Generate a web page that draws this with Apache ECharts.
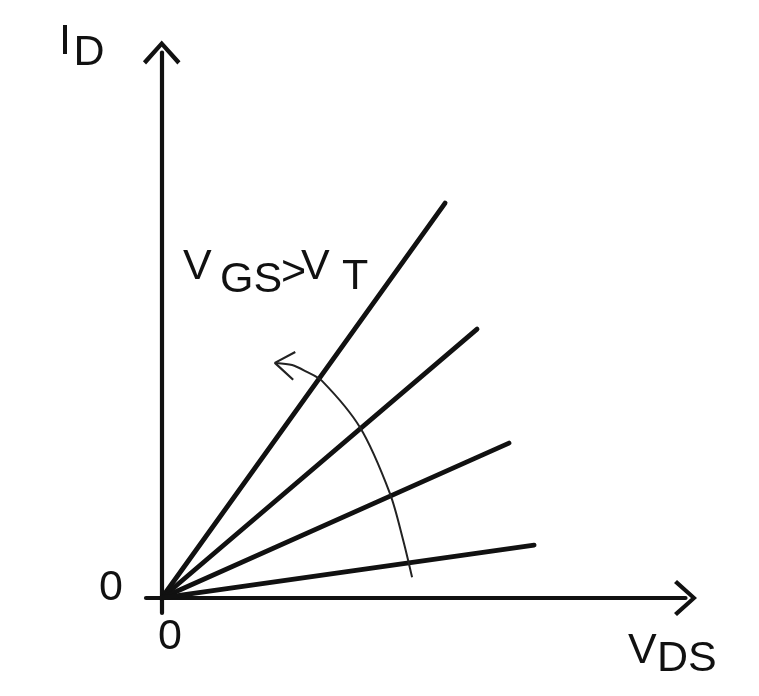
<!DOCTYPE html>
<html>
<head>
<meta charset="utf-8">
<script src="https://cdn.jsdelivr.net/npm/echarts@6/dist/echarts.min.js"></script>
<style>
  html, body { margin: 0; padding: 0; background: #fff; }
  #chart { width: 759px; height: 696px; }
</style>
</head>
<body>
<div id="chart"></div>
<script>
// end points of the four I-V lines (all start at origin)
const lineEndX = [54.1, 60.2, 66.3, 71.1];
const lineEndY = [72.4, 49.3, 28.4, 9.7];

// curved arrow showing increasing VGS
const arcX = [47.8, 46.1, 43.6, 37.9, 30.6, 27.4, 24.9, 21.8];
const arcY = [3.8, 10.6, 19.1, 31.2, 39.8, 41.6, 42.7, 43.1];
const headX = [25.5, 21.6, 25.1];
const headY = [45.1, 43.1, 40.0];

const chart = echarts.init(document.getElementById("chart"));

// open chevron for the axis ends
const arrowPath = "path://M18,0 L36,20 L33,23 L18,6 L3,23 L0,20 Z";
const FONT = "43px 'Liberation Sans', Arial, sans-serif";

const txt = (s, x, y) => ({
  type: "text",
  x: x,
  y: y,
  style: { text: s, font: FONT, fill: "#111", textAlign: "left", textVerticalAlign: "middle" },
});

const lineSeries = lineEndX.map((x, i) => ({
  type: "line",
  data: [[0, 0], [x, lineEndY[i]]],
  showSymbol: false,
  lineStyle: { color: "#111", width: 4.8, cap: "round" },
}));

const option = {
  animation: false,
  backgroundColor: "#fff",
  grid: { left: 146, right: 73.5, top: 52.5, bottom: 83 },
  xAxis: {
    type: "value",
    min: -3,
    max: 100,
    axisLine: {
      onZero: true,
      lineStyle: { color: "#111", width: 4.2 },
      symbol: ["none", arrowPath],
      symbolSize: [36, 23],
    },
    axisTick: { show: false },
    axisLabel: { show: false },
    splitLine: { show: false },
  },
  yAxis: {
    type: "value",
    min: -2.75,
    max: 100,
    axisLine: {
      onZero: true,
      lineStyle: { color: "#111", width: 4.2 },
      symbol: ["none", arrowPath],
      symbolSize: [40, 24],
    },
    axisTick: { show: false },
    axisLabel: { show: false },
    splitLine: { show: false },
  },
  series: [
    ...lineSeries,
    {
      type: "line",
      data: arcX.map((x, i) => [x, arcY[i]]),
      smooth: 0.3,
      showSymbol: false,
      lineStyle: { color: "#222", width: 2 },
    },
    {
      type: "line",
      data: headX.map((x, i) => [x, headY[i]]),
      showSymbol: false,
      lineStyle: { color: "#222", width: 2.2 },
    },
  ],
  graphic: [
    txt("I", 59, 42.5),
    txt("D", 73.5, 53),
    txt("V", 183, 267.5),
    txt("GS", 220, 280),
    txt(">", 281, 273),
    txt("V", 301, 267.5),
    txt("T", 342, 277.5),
    txt("V", 628, 651),
    txt("DS", 657, 659),
    txt("0", 158, 637.5),
    txt("0", 99, 588),
  ],
};

chart.setOption(option);
</script>
</body>
</html>
